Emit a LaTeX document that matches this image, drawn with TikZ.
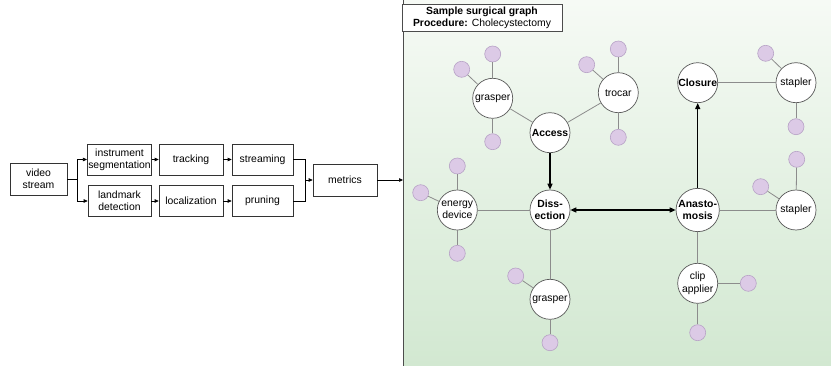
\documentclass[tikz,border=0pt]{standalone}
\usepackage{fontspec}
\setmainfont{Liberation Sans}
\usetikzlibrary{arrows.meta}
\definecolor{pfill}{HTML}{DCCAE6}
\definecolor{pdraw}{HTML}{B7A2C6}
\definecolor{bgtop}{HTML}{F6FAF5}
\definecolor{bgbot}{HTML}{D2E8D1}
\definecolor{edgegray}{HTML}{8C8C8C}
\begin{document}
\begin{tikzpicture}[x=1pt,y=-1pt,
  every node/.style={font=\fontsize{10.4}{12.3}\selectfont},
  procbox/.style={draw=black!80, line width=0.6pt, fill=white, minimum width=63pt, minimum height=31pt, inner sep=1pt, align=center},
  bignode/.style={circle, draw=black!65, line width=0.7pt, fill=white, minimum size=40pt, inner sep=0pt, align=center},
  phase/.style={bignode, font=\fontsize{10.4}{12.3}\selectfont\bfseries},
  tinynode/.style={circle, draw=pdraw, line width=0.6pt, fill=pfill, minimum size=16pt, inner sep=0pt},
  gline/.style={draw=edgegray, line width=0.8pt},
  flow/.style={draw=black, line width=1.3pt, -{Triangle[length=6pt,width=5pt]}},
  pipe/.style={draw=black, line width=0.6pt, -{Triangle[length=4pt,width=3.5pt]}}
]
\useasboundingbox (0,0) rectangle (831,366);
% panel background
\shade[top color=bgtop, bottom color=bgbot] (403,0) rectangle (831,366);
\draw[black!70, line width=0.8pt] (403,0) -- (403,366);
\node[draw=black!70, line width=0.6pt, fill=white, minimum width=160pt, minimum height=27pt, align=center, inner sep=1pt] (title) at (482,17.5)
  {\textbf{Sample surgical graph}\\\textbf{Procedure:} Cholecystectomy};

% pipeline
\node[procbox, minimum width=57pt, minimum height=32pt] (video) at (38.5,179) {video\\stream};
\node[procbox] (seg) at (119.5,159.5) {instrument\\segmentation};
\node[procbox, minimum width=64pt] (track) at (191,159.5) {tracking};
\node[procbox, minimum width=61pt] (stream) at (262.5,159.5) {streaming};
\node[procbox] (land) at (119.5,201) {landmark\\detection};
\node[procbox, minimum width=64pt] (loc) at (191,201) {localization};
\node[procbox, minimum width=61pt] (prune) at (262.5,201) {pruning};
\node[procbox, minimum width=64pt, minimum height=32pt] (metrics) at (345,180) {metrics};
\coordinate (split) at (77,179);
\coordinate (join) at (305,180);
\coordinate (panelin) at (403,180);
\draw[black, line width=0.6pt] (video.east) -- (split);
\draw[pipe] (split) |- (seg.west);
\draw[pipe] (split) |- (land.west);
\draw[pipe] (seg) -- (track);
\draw[pipe] (track) -- (stream);
\draw[pipe] (land) -- (loc);
\draw[pipe] (loc) -- (prune);
\draw[black, line width=0.6pt] (stream.east) -| (join);
\draw[black, line width=0.6pt] (prune.east) -| (join);
\draw[pipe] (join) -- (metrics.west);
\draw[pipe] (metrics.east) -- (panelin);

% graph nodes
\node[bignode] (grasperA) at (492.7,98.3) {grasper};
\node[phase] (access) at (550,132.7) {Access};
\node[bignode] (trocar) at (618.3,92.7) {trocar};
\node[phase] (closure) at (697.7,82.7) {Closure};
\node[bignode] (staplerA) at (796,82.7) {stapler};
\node[bignode] (energy) at (457.3,210) {energy\\device};
\node[phase] (dissection) at (550,210) {Diss-\\ection};
\node[bignode] (grasperB) at (550,299.3) {grasper};
\node[phase] (anast) at (697.7,210) {Anasto-\\mosis};
\node[bignode] (staplerB) at (796,210) {stapler};
\node[bignode] (clip) at (697.7,283.3) {clip\\applier};

% small attribute circles
\node[tinynode] (ga1) at (492.7,54) {};
\node[tinynode] (ga2) at (461.7,69.3) {};
\node[tinynode] (ga3) at (492.7,141.7) {};
\node[tinynode] (tr1) at (618.3,49) {};
\node[tinynode] (tr2) at (586.7,64.7) {};
\node[tinynode] (tr3) at (618.3,137.3) {};
\node[tinynode] (sa1) at (765.7,53.3) {};
\node[tinynode] (sa2) at (796,126.7) {};
\node[tinynode] (sb1) at (796.7,159.3) {};
\node[tinynode] (sb2) at (760.7,186.7) {};
\node[tinynode] (en1) at (457.3,166) {};
\node[tinynode] (en2) at (420.7,192.7) {};
\node[tinynode] (en3) at (457.3,253.3) {};
\node[tinynode] (gb1) at (515.7,276) {};
\node[tinynode] (gb2) at (550,342.7) {};
\node[tinynode] (cl1) at (748.3,283.3) {};
\node[tinynode] (cl2) at (697.7,332.7) {};

% gray links
\foreach \a/\b in {grasperA/ga1, grasperA/ga2, grasperA/ga3, trocar/tr1, trocar/tr2, trocar/tr3,
  staplerA/sa1, staplerA/sa2, staplerB/sb1, staplerB/sb2, energy/en1, energy/en2, energy/en3,
  grasperB/gb1, grasperB/gb2, clip/cl1, clip/cl2,
  access/grasperA, access/trocar, dissection/energy, dissection/grasperB,
  closure/staplerA, anast/staplerB, anast/clip}
  \draw[gline] (\a) -- (\b);

% phase flow
\draw[flow] (access) -- (dissection);
\draw[flow, {Triangle[length=6pt,width=5pt]}-{Triangle[length=6pt,width=5pt]}] (dissection) -- (anast);
\draw[flow] (anast) -- (closure);
\end{tikzpicture}
\end{document}
